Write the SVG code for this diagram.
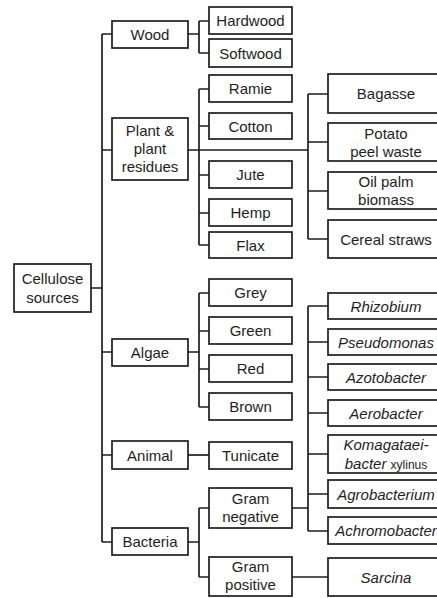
<svg xmlns="http://www.w3.org/2000/svg" width="437" height="598" viewBox="0 0 437 598">
<style>
rect{fill:#fff;stroke:#1e1e1e;stroke-width:1.7}
.c path{fill:none;stroke:#1e1e1e;stroke-width:1.7}
text{font-family:"Liberation Sans",Arial,sans-serif;font-size:15px;fill:#1e1e1e;text-anchor:middle}
.i{font-style:italic}
.s{font-size:12px;font-style:normal}
</style>
<rect x="0" y="0" width="437" height="598" style="fill:#fff;stroke:none"/>
<g class="c">
<path d="M91 288H102M102 34V542M102 34H112M102 150H112M102 352H112M102 455H112M102 542H112"/>
<path d="M188 34H199M199 21V53M199 21H209M199 53H209"/>
<path d="M188 150H308M199 89V245M199 89H209M199 126H209M199 175H209M199 213H209M199 245H209"/>
<path d="M308 94V239M308 94H328M308 142H328M308 191H328M308 239H328"/>
<path d="M188 352H199M199 293V407M199 293H209M199 331H209M199 369H209M199 407H209"/>
<path d="M188 455H209"/>
<path d="M188 542H199M199 508V577M199 508H209M199 577H209"/>
<path d="M292 508H308M308 306V531M308 306H328M308 342H328M308 377H328M308 413H328M308 454H328M308 494H328M308 531H328"/>
<path d="M292 577H328"/>
</g>
<g id="cellulose"><rect x="14" y="264" width="77" height="48"/><text x="52.5" y="284">Cellulose</text><text x="52.5" y="303">sources</text></g>
<g id="wood"><rect x="112" y="21" width="76" height="27"/><text x="150" y="40">Wood</text></g>
<g id="plant"><rect x="112" y="118" width="76" height="62"/><text x="150" y="136">Plant &amp;</text><text x="150" y="154">plant</text><text x="150" y="172">residues</text></g>
<g id="algae"><rect x="112" y="339" width="76" height="27"/><text x="150" y="358">Algae</text></g>
<g id="animal"><rect x="112" y="441" width="76" height="28"/><text x="150" y="460.5">Animal</text></g>
<g id="bacteria"><rect x="112" y="528" width="76" height="27"/><text x="150" y="547">Bacteria</text></g>
<g id="hardwood"><rect x="209" y="7" width="83" height="27"/><text x="250.5" y="26">Hardwood</text></g>
<g id="softwood"><rect x="209" y="39" width="83" height="28"/><text x="250.5" y="58.5">Softwood</text></g>
<g id="ramie"><rect x="209" y="75" width="83" height="27"/><text x="250.5" y="94">Ramie</text></g>
<g id="cotton"><rect x="209" y="113" width="83" height="26"/><text x="250.5" y="131.5">Cotton</text></g>
<g id="jute"><rect x="209" y="161" width="83" height="27"/><text x="250.5" y="180">Jute</text></g>
<g id="hemp"><rect x="209" y="199" width="83" height="27"/><text x="250.5" y="218">Hemp</text></g>
<g id="flax"><rect x="209" y="232" width="83" height="26"/><text x="250.5" y="250.5">Flax</text></g>
<g id="bagasse"><rect x="328" y="74" width="116" height="39"/><text x="386" y="99">Bagasse</text></g>
<g id="potato"><rect x="328" y="123" width="116" height="38"/><text x="386" y="139">Potato</text><text x="386" y="157">peel waste</text></g>
<g id="oilpalm"><rect x="328" y="172" width="116" height="37"/><text x="386" y="187">Oil palm</text><text x="386" y="205">biomass</text></g>
<g id="cereal"><rect x="328" y="220" width="116" height="38"/><text x="386" y="244.5">Cereal straws</text></g>
<g id="grey"><rect x="209" y="279" width="83" height="27"/><text x="250.5" y="298">Grey</text></g>
<g id="green"><rect x="209" y="317" width="83" height="27"/><text x="250.5" y="336">Green</text></g>
<g id="red"><rect x="209" y="355" width="83" height="27"/><text x="250.5" y="374">Red</text></g>
<g id="brown"><rect x="209" y="393" width="83" height="27"/><text x="250.5" y="412">Brown</text></g>
<g id="tunicate"><rect x="209" y="442" width="83" height="27"/><text x="250.5" y="461">Tunicate</text></g>
<g id="gramneg"><rect x="209" y="488" width="83" height="40"/><text x="250.5" y="504">Gram</text><text x="250.5" y="522">negative</text></g>
<g id="grampos"><rect x="209" y="557" width="83" height="39"/><text x="250.5" y="572">Gram</text><text x="250.5" y="590">positive</text></g>
<g id="rhizobium"><rect x="328" y="293" width="116" height="26"/><text class="i" x="386" y="311.5">Rhizobium</text></g>
<g id="pseudomonas"><rect x="328" y="329" width="116" height="26"/><text class="i" x="386" y="347.5">Pseudomonas</text></g>
<g id="azotobacter"><rect x="328" y="364" width="116" height="26"/><text class="i" x="386" y="382.5">Azotobacter</text></g>
<g id="aerobacter"><rect x="328" y="400" width="116" height="26"/><text class="i" x="386" y="418.5">Aerobacter</text></g>
<g id="komagataeibacter"><rect x="328" y="435" width="116" height="38"/><text class="i" x="386" y="450">Komagataei-</text><text class="i" x="386" y="469">bacter <tspan class="s">xylinus</tspan></text></g>
<g id="agrobacterium"><rect x="328" y="480" width="116" height="28"/><text class="i" x="386" y="499.5">Agrobacterium</text></g>
<g id="achromobacter"><rect x="328" y="517" width="116" height="27"/><text class="i" x="386" y="536">Achromobacter</text></g>
<g id="sarcina"><rect x="328" y="558" width="116" height="38"/><text class="i" x="386" y="582.5">Sarcina</text></g>
</svg>
